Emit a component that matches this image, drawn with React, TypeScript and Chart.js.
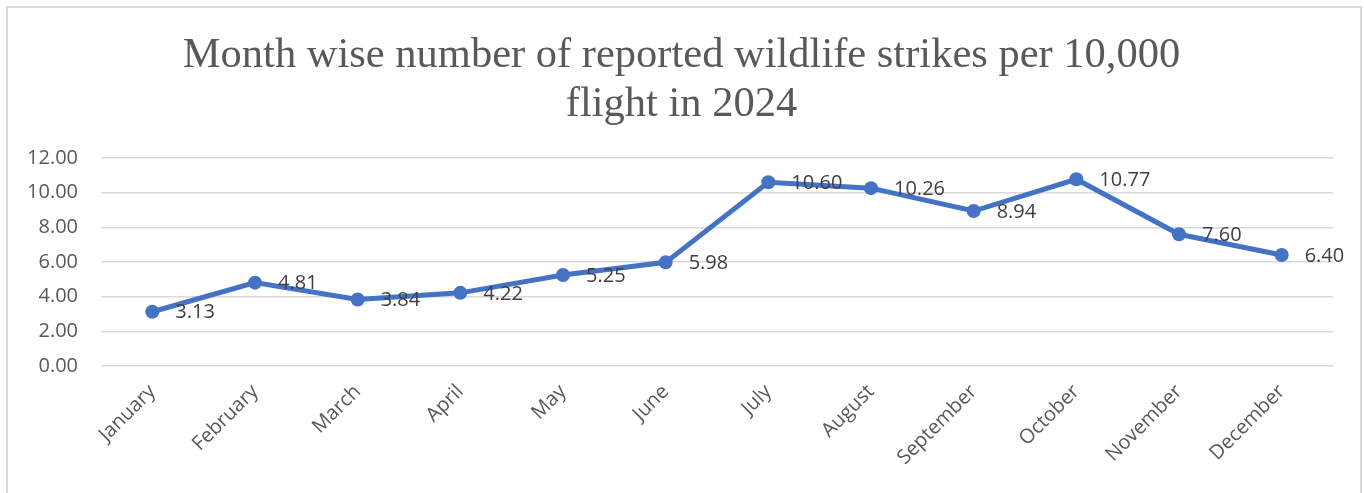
import React, { useEffect, useRef } from "react";
import { Chart, registerables } from "chart.js";

Chart.register(...registerables);

const titleLines = ["Month wise number of reported wildlife strikes per 10,000", "flight in 2024"];
const months = [
  "January", "February", "March", "April", "May", "June",
  "July", "August", "September", "October", "November", "December",
];
const strikesPer10k = [3.13, 4.81, 3.84, 4.22, 5.25, 5.98, 10.6, 10.26, 8.94, 10.77, 7.6, 6.4];
const yMin = 0;
const yMax = 12;
const yStep = 2;

const titlePlugin = {
  id: "centeredTitle",
  afterDraw(chart: any) {
    const ctx = chart.ctx;
    ctx.save();
    ctx.font = '42.5px "Liberation Serif", "Times New Roman", serif';
    ctx.fillStyle = "#595959";
    ctx.textAlign = "center";
    ctx.textBaseline = "alphabetic";
    const cx = chart.width / 2 - 2.5;
    titleLines.forEach((line, i) => {
      ctx.fillText(line, cx, 59 + i * 49);
    });
    ctx.restore();
  },
};

const dataLabelPlugin = {
  id: "pointValueLabels",
  afterDatasetsDraw(chart: any) {
    const ctx = chart.ctx;
    const meta = chart.getDatasetMeta(0);
    const values = chart.data.datasets[0].data as number[];
    ctx.save();
    ctx.font = '20px "Open Sans"';
    ctx.fillStyle = "#404040";
    ctx.textAlign = "left";
    ctx.textBaseline = "middle";
    meta.data.forEach((pt: any, i: number) => {
      ctx.fillText(values[i].toFixed(2), pt.x + 23, pt.y + 1);
    });
    ctx.restore();
  },
};

export default function App() {
  const ref = useRef<HTMLCanvasElement | null>(null);

  useEffect(() => {
    document.body.style.overflow = "hidden";
    const canvas = ref.current;
    if (!canvas) return;
    const chart = new Chart(canvas, {
      type: "line",
      data: {
        labels: months,
        datasets: [
          {
            data: strikesPer10k,
            borderColor: "#4472C4",
            backgroundColor: "#4472C4",
            borderWidth: 5,
            pointRadius: 7,
            pointHoverRadius: 7,
            pointBackgroundColor: "#4472C4",
            pointBorderColor: "#4472C4",
            pointBorderWidth: 0,
            tension: 0,
          },
        ],
      },
      options: {
        responsive: false,
        animation: false,
        devicePixelRatio: 1,
        layout: { padding: { left: 0, right: 27, top: 150, bottom: 0 } },
        plugins: {
          legend: { display: false },
          tooltip: { enabled: false },
          title: { display: false },
        },
        scales: {
          x: {
            offset: true,
            grid: { display: false, drawTicks: false },
            border: { display: false },
            ticks: {
              color: "#595959",
              font: { family: '"Open Sans"', size: 20 },
              maxRotation: 45,
              minRotation: 45,
              autoSkip: false,
              padding: 14,
            },
            afterFit(scale: any) {
              scale.height = 127;
            },
          },
          y: {
            min: yMin,
            max: yMax,
            grid: { color: "#d9d9d9", lineWidth: 1.5, drawTicks: false },
            border: { display: false },
            ticks: {
              stepSize: yStep,
              color: "#595959",
              font: { family: '"Open Sans"', size: 20 },
              padding: 23,
              callback: (v: any) => Number(v).toFixed(2),
            },
            afterFit(scale: any) {
              scale.width = 93;
            },
          },
        },
      },
      plugins: [dataLabelPlugin, titlePlugin],
    });
    return () => chart.destroy();
  }, []);

  return (
    <div
      style={{
        position: "absolute",
        left: 6,
        top: 6,
        width: 1352,
        height: 485,
        borderTop: "2px solid #d9d9d9",
        borderLeft: "2px solid #d9d9d9",
        borderRight: "2px solid #d9d9d9",
        background: "#fff",
      }}
    >
      <canvas ref={ref} width={1352} height={485} style={{ display: "block" }} />
    </div>
  );
}
